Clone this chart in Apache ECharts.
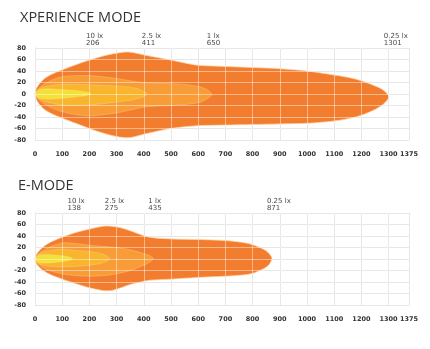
<!DOCTYPE html>
<html>
<head>
<meta charset="utf-8">
<script src="https://cdn.jsdelivr.net/npm/echarts@6/dist/echarts.min.js"></script>
<style>
html,body{margin:0;padding:0;background:#fff;}
#chart{width:430px;height:349px;}
</style>
</head>
<body>
<div id="chart"></div>
<script>
// ---------- data ----------
var titles = ['XPERIENCE MODE', 'E-MODE'];
var levelNames = ['0.25 lx', '1 lx', '2.5 lx', '10 lx'];

// XPERIENCE MODE: reach (m) per illuminance level
var xpReach = [1301, 650, 411, 206];
// E-MODE: reach (m) per illuminance level
var eReach = [871, 435, 275, 138];

// XPERIENCE MODE contours (distance, upper edge, lower edge)
var xp025X  = [0, 8, 30, 60, 100, 150, 200, 250, 300, 345, 400, 466, 500, 550, 600, 700, 800, 900, 1000, 1100, 1150, 1200, 1250, 1280, 1301];
var xp025Up = [0, 12, 25, 34, 42, 51, 59, 66, 71, 73, 68, 62, 59, 54, 50, 48, 46, 44, 40, 33, 29, 23, 14, 7, -5];
var xp025Lo = [0, -12, -25, -34, -42, -51, -60, -68, -74, -76, -70, -63, -60, -57, -55, -54, -53, -52, -51, -47, -43, -37, -27, -18, -5];

var xp1X  = [0, 10, 30, 60, 100, 150, 200, 250, 300, 350, 400, 450, 500, 560, 610, 635, 650];
var xp1Up = [0, 8, 16, 24, 30, 32, 32, 30, 27, 23, 20, 19, 18, 16, 12, 7, -1];
var xp1Lo = [0, -8, -16, -24, -31, -36, -38, -36, -33, -28, -23, -21, -20, -18, -14, -8, -1];

var xp25X  = [0, 10, 30, 60, 100, 150, 200, 250, 300, 350, 385, 405, 411];
var xp25Up = [0, 7, 12, 15, 17, 17, 16, 15, 14, 12, 8, 3, 0];
var xp25Lo = [0, -7, -12, -16, -19, -20, -19, -17, -14, -11, -7, -3, 0];

var xp10X  = [0, 8, 20, 50, 90, 130, 170, 195, 206];
var xp10Up = [0, 5, 8, 9, 8, 7, 5, 3, 0];
var xp10Lo = [0, -5, -8, -9, -8, -6, -4, -2, 0];

// E-MODE contours
var e025X  = [0, 8, 30, 60, 100, 150, 200, 250, 280, 310, 345, 380, 420, 500, 600, 700, 760, 800, 840, 860, 871];
var e025Up = [0, 10, 21, 30, 38, 46, 52, 57, 57, 55, 50, 44, 38, 35, 34, 32, 29, 25, 17, 10, 1];
var e025Lo = [0, -10, -20, -28, -35, -43, -50, -55, -55, -51, -45, -41, -37, -35, -32, -30, -28, -25, -17, -10, 1];

var e1X  = [0, 10, 30, 60, 100, 150, 200, 250, 300, 350, 390, 420, 435];
var e1Up = [0, 8, 15, 22, 28, 27, 24, 22, 20, 16, 11, 6, 1];
var e1Lo = [0, -8, -15, -21, -26, -29, -30, -29, -26, -20, -13, -6, 1];

var e25X  = [0, 10, 30, 60, 100, 150, 200, 240, 265, 275];
var e25Up = [0, 7, 12, 15, 17, 15, 13, 10, 5, 1];
var e25Lo = [0, -7, -11, -13, -14, -13, -11, -8, -4, 0];

var e10X  = [0, 8, 20, 50, 90, 120, 135, 138];
var e10Up = [0, 5, 7, 8, 6, 4, 2, 0];
var e10Lo = [0, -5, -7, -7, -5, -3, -1, 0];

// axes
var xMin = 0, xMax = 1375, xStep = 100;
var yMin = -80, yMax = 80, yStep = 20;

// ---------- styling ----------
var levelColors = ['#F37D2E', '#F89C37', '#F9B52D', '#F4E137'];
var labelFont = {fontFamily: 'DejaVu Sans', fontSize: 6.5, fontWeight: 'bold', color: '#333'};

function contourList(xsArr, upArr, loArr) {
  return xsArr.map(function (xs, i) { return {x: xs, up: upArr[i], lo: loArr[i]}; });
}
var charts = [
  contourList([xp025X, xp1X, xp25X, xp10X], [xp025Up, xp1Up, xp25Up, xp10Up], [xp025Lo, xp1Lo, xp25Lo, xp10Lo]),
  contourList([e025X, e1X, e25X, e10X], [e025Up, e1Up, e25Up, e10Up], [e025Lo, e1Lo, e25Lo, e10Lo])
];
var reaches = [xpReach, eReach];

var grids = [
  {left: 35, top: 48, width: 374, height: 92},
  {left: 35, top: 213, width: 374, height: 92}
];

function plain(v) { return String(v); }

var xAxes = [], yAxes = [], series = [];
grids.forEach(function (g, gi) {
  // base axes (grey grid under the beam)
  xAxes.push({
    gridIndex: gi, type: 'value', min: xMin, max: xMax, interval: xStep,
    axisLine: {show: true, lineStyle: {color: '#d4d4d4', width: 1}},
    axisTick: {show: false},
    splitLine: {show: true, lineStyle: {color: '#d4d4d4', width: 1}},
    axisLabel: Object.assign({margin: 11, interval: 0, showMaxLabel: true, formatter: plain}, labelFont)
  });
  yAxes.push({
    gridIndex: gi, type: 'value', min: yMin, max: yMax, interval: yStep,
    axisLine: {show: true, lineStyle: {color: '#d4d4d4', width: 1}},
    axisTick: {show: false},
    splitLine: {show: true, lineStyle: {color: '#d4d4d4', width: 1}},
    axisLabel: Object.assign({margin: 9, formatter: plain}, labelFont)
  });
  // overlay axes (light grid lines on top of the beam)
  xAxes.push({
    gridIndex: gi, type: 'value', min: xMin, max: xMax, interval: xStep, z: 5,
    axisLine: {show: false}, axisTick: {show: false}, axisLabel: {show: false},
    splitLine: {show: true, lineStyle: {color: 'rgba(255,255,255,0.45)', width: 1}}
  });
  yAxes.push({
    gridIndex: gi, type: 'value', min: yMin, max: yMax, interval: yStep, z: 5,
    axisLine: {show: false}, axisTick: {show: false}, axisLabel: {show: false},
    splitLine: {show: true, lineStyle: {color: 'rgba(255,255,255,0.45)', width: 1}}
  });

  var contours = charts[gi];
  series.push({
    type: 'custom',
    xAxisIndex: gi * 2, yAxisIndex: gi * 2,
    z: 2,
    data: contours.map(function (c, i) { return [c.x[c.x.length - 1], 0, i]; }),
    encode: {x: 0, y: 1},
    renderItem: function (params, api) {
      var c = contours[params.dataIndex];
      var pts = [];
      for (var i = 0; i < c.x.length; i++) pts.push(api.coord([c.x[i], c.up[i]]));
      for (var j = c.x.length - 2; j >= 1; j--) pts.push(api.coord([c.x[j], c.lo[j]]));
      return {
        type: 'polygon',
        shape: {points: pts, smooth: 0.3},
        style: {
          fill: levelColors[params.dataIndex],
          stroke: params.dataIndex === 0 ? 'rgba(252,214,170,0.9)' : 'rgba(255,230,180,0.35)',
          lineWidth: 0.8
        }
      };
    }
  });

  // reach annotations above the grid
  series.push({
    type: 'scatter',
    xAxisIndex: gi * 2, yAxisIndex: gi * 2,
    symbolSize: 0, silent: true, clip: false, z: 6,
    data: reaches[gi].map(function (r, i) { return {name: levelNames[i], value: [r, yMax]}; }),
    label: {
      show: true,
      position: [-5, -1.5],
      align: 'left', verticalAlign: 'bottom',
      fontFamily: 'DejaVu Sans', fontSize: 7, lineHeight: 7, color: '#111',
      formatter: function (p) { return p.name + '\n' + p.value[0]; }
    }
  });
});

var chart = echarts.init(document.getElementById('chart'), null, {renderer: 'canvas'});
chart.setOption({
  animation: false,
  backgroundColor: '#fff',
  title: [
    {text: titles[0], left: 15, top: 5, textStyle: {fontFamily: 'Open Sans', fontSize: 14.5, fontWeight: 'normal', color: '#333'}},
    {text: titles[1], left: 13, top: 173, textStyle: {fontFamily: 'Open Sans', fontSize: 14.5, fontWeight: 'normal', color: '#333'}}
  ],
  grid: grids,
  xAxis: xAxes,
  yAxis: yAxes,
  series: series
});
</script>
</body>
</html>
